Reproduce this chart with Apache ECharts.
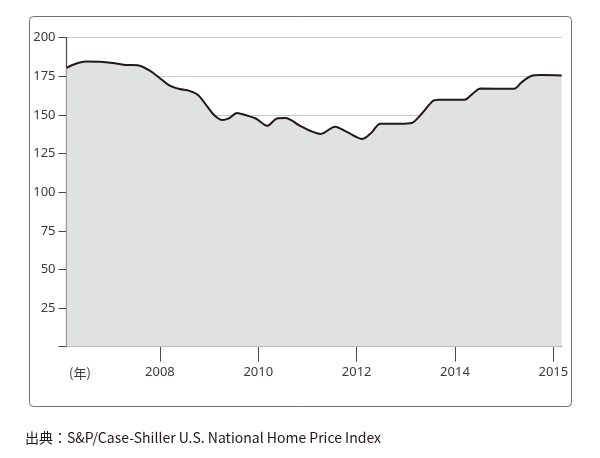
<!DOCTYPE html>
<html>
<head>
<meta charset="utf-8">
<script src="https://cdn.jsdelivr.net/npm/echarts@6/dist/echarts.min.js"></script>
<style>
html,body{margin:0;padding:0;background:#fff;}
#c{width:600px;height:458px;}
</style>
</head>
<body>
<div id="c"></div>
<script>
// Time (decimal years) and index values
var years = [2006.10,2006.30,2006.50,2006.78,2007.04,2007.29,2007.55,2007.80,2008.00,2008.20,
  2008.40,2008.60,2008.78,2008.95,2009.10,2009.27,2009.40,2009.57,2009.75,2009.95,
  2010.18,2010.38,2010.55,2010.85,2011.05,2011.27,2011.56,2011.80,2012.12,2012.30,
  2012.48,2012.88,2013.12,2013.30,2013.55,2013.68,2014.20,2014.35,2014.52,2015.20,
  2015.35,2015.55,2015.75,2016.17];
var index = [180.5,183.3,184.6,184.4,183.6,182.4,182.2,178.5,173.8,169.0,
  166.8,165.6,162.8,156.0,150.0,146.7,147.8,151.3,149.8,147.7,
  143.0,147.7,148.0,143.0,139.8,137.7,142.4,139.0,134.5,138.5,
  144.3,144.3,144.8,150.0,159.0,159.8,159.9,163.5,167.1,166.9,
  171.0,175.2,175.8,175.5];
var tickPositions = [2008, 2010, 2012, 2014, 2016];
var tickLabels = ['2008', '2010', '2012', '2014', '2015'];
var yearUnit = '(年)';
var sourceText = '出典：S&P/Case-Shiller U.S. National Home Price Index';

var textColor = '#3e3a39';
var axisColor = '#4d4848';
var chart = echarts.init(document.getElementById('c'), null, {renderer: 'canvas'});
chart.setOption({
  animation: false,
  backgroundColor: '#fff',
  grid: {left: 66.5, right: 38.3, top: 37.7, bottom: 111.3},
  xAxis: {
    type: 'value',
    min: years[0],
    max: years[years.length - 1],
    axisLine: {show: true, lineStyle: {color: axisColor, width: 1.2}},
    axisTick: {show: true, customValues: tickPositions, length: 15, lineStyle: {color: axisColor, width: 1}},
    axisLabel: {
      customValues: tickPositions,
      margin: 19,
      color: textColor,
      fontSize: 13,
      fontFamily: 'Noto Sans',
      formatter: function (v) {
        var i = tickPositions.indexOf(Math.round(v));
        return i >= 0 ? tickLabels[i] : '';
      }
    },
    splitLine: {show: false}
  },
  yAxis: {
    type: 'value',
    min: 0,
    max: 200,
    interval: 25,
    axisLine: {show: true, lineStyle: {color: axisColor, width: 1.2}},
    axisTick: {show: true, length: 8, lineStyle: {color: axisColor, width: 1}},
    axisLabel: {
      margin: 11,
      color: textColor,
      fontSize: 13,
      fontFamily: 'Noto Sans',
      formatter: function (v) { return v === 0 ? '' : String(v); }
    },
    splitLine: {show: true, lineStyle: {color: '#c9c9c9', width: 1}}
  },
  series: [{
    type: 'line',
    data: years.map(function (y, i) { return [y, index[i]]; }),
    smooth: 0.3,
    symbol: 'none',
    lineStyle: {color: '#231815', width: 2},
    areaStyle: {color: '#e0e1e1', opacity: 1}
  }],
  graphic: [
    {type: 'rect', z: -10, shape: {x: 29.5, y: 16.5, width: 542, height: 390, r: 4},
     style: {fill: 'none', stroke: '#707070', lineWidth: 1}},
    {type: 'text', x: 80, y: 373, style: {text: yearUnit, fill: textColor, fontSize: 13,
     fontFamily: 'Noto Sans CJK JP', textAlign: 'center', textVerticalAlign: 'middle'}},
    {type: 'text', x: 25, y: 437.5, style: {text: sourceText, fill: '#231815', fontSize: 14,
     fontFamily: 'Noto Sans CJK JP', textAlign: 'left', textVerticalAlign: 'middle'}}
  ]
});
</script>
</body>
</html>
